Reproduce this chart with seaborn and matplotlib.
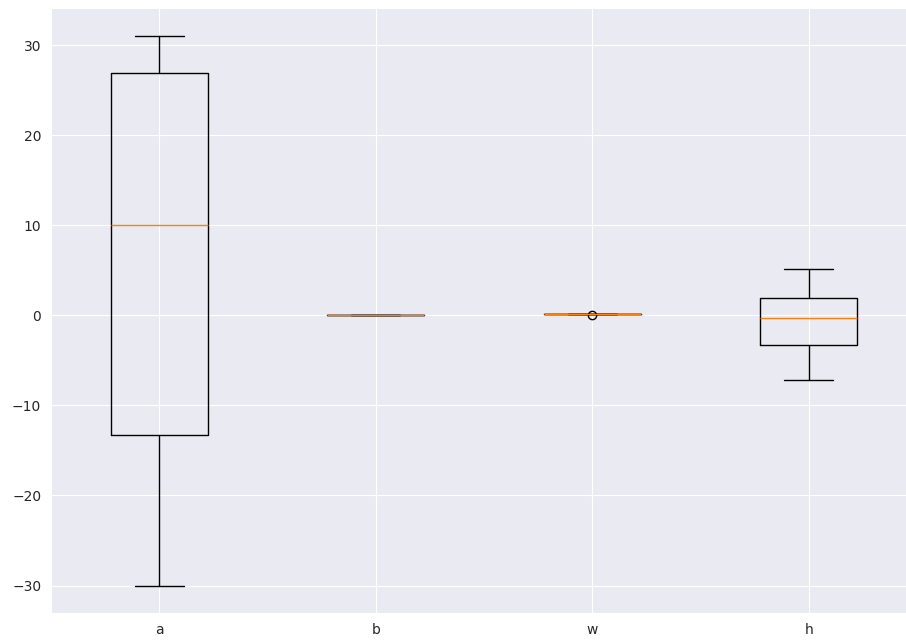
import matplotlib
matplotlib.use("Agg")
import matplotlib.pyplot as plt
import seaborn as sns

# box statistics
labels = ["a", "b", "w", "h"]
whislo = [-30.0, 0.0, 0.17, -7.15]
q1 = [-13.25, 0.0, 0.17, -3.27]
medians = [10.0, 0.0, 0.17, -0.28]
q3 = [26.9, 0.0, 0.17, 1.94]
whishi = [31.1, 0.0, 0.17, 5.16]
fliers = [[], [], [0.0], []]

sns.set_style("darkgrid")

stats = []
for i in range(len(labels)):
    stats.append({
        "label": labels[i],
        "whislo": whislo[i],
        "q1": q1[i],
        "med": medians[i],
        "q3": q3[i],
        "whishi": whishi[i],
        "fliers": fliers[i],
    })

fig, ax = plt.subplots(figsize=(9.06, 6.4), dpi=100)
ax.bxp(stats, widths=0.45,
       medianprops={"zorder": 3},
       capprops={"zorder": 1.5}, whiskerprops={"zorder": 1.5},
       boxprops={"zorder": 1.5})
# axes run past the right edge, as in the cropped original
fig.subplots_adjust(left=51 / 906, right=917 / 906, top=1 - 8 / 640, bottom=1 - 613 / 640)
plt.savefig("out.png", dpi=100)
